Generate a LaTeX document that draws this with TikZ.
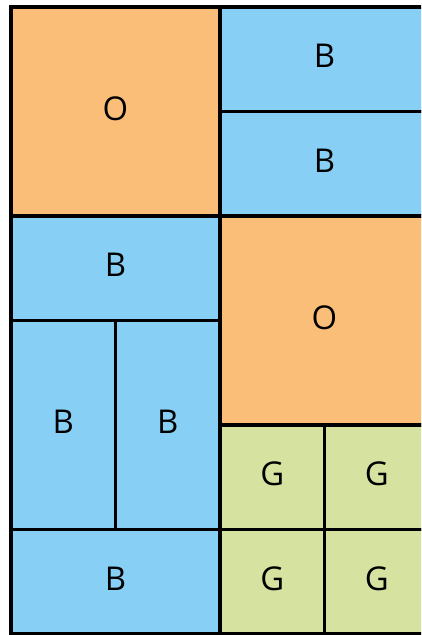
\documentclass[tikz,border=0pt]{standalone}
\usepackage{fontspec}
\setmainfont{Open Sans}
\definecolor{orangecell}{RGB}{250,190,120}
\definecolor{bluecell}{RGB}{135,207,245}
\definecolor{greencell}{RGB}{214,227,160}
\tikzset{
  cell/.style={draw=black,line width=2.9pt,rectangle,inner sep=0pt,text depth=0.2cm,font=\fontsize{28}{30}\selectfont},
  small/.style={cell,minimum width=3.135cm,minimum height=3.135cm},
  wide/.style={cell,minimum width=6.27cm,minimum height=3.135cm},
  tall/.style={cell,minimum width=3.135cm,minimum height=6.27cm},
  big/.style={cell,minimum width=6.27cm,minimum height=6.27cm}
}
\begin{document}
\begin{tikzpicture}[line join=miter]
  \useasboundingbox (0,0) rectangle (12.63,-19.05);
  \clip (0,0) rectangle (12.63,-19.05);
  \begin{scope}[shift={(0.33,-0.21)},x=3.135cm,y=-3.135cm]
    % left column
    \node[big,fill=orangecell] (otop) at (1,1) {O};
    \node[wide,fill=bluecell] (bmid) at (1,2.5) {B};
    \node[tall,fill=bluecell] (bleft) at (0.5,4) {B};
    \node[tall,fill=bluecell] (bright) at (1.5,4) {B};
    \node[wide,fill=bluecell] (bbot) at (1,5.5) {B};
    % right column
    \node[wide,fill=bluecell] (bone) at (3,0.5) {B};
    \node[wide,fill=bluecell] (btwo) at (3,1.5) {B};
    \node[big,fill=orangecell] (obig) at (3,3) {O};
    \node[small,fill=greencell] (gnw) at (2.5,4.5) {G};
    \node[small,fill=greencell] (gne) at (3.5,4.5) {G};
    \node[small,fill=greencell] (gsw) at (2.5,5.5) {G};
    \node[small,fill=greencell] (gse) at (3.5,5.5) {G};
  \end{scope}
\end{tikzpicture}
\end{document}
